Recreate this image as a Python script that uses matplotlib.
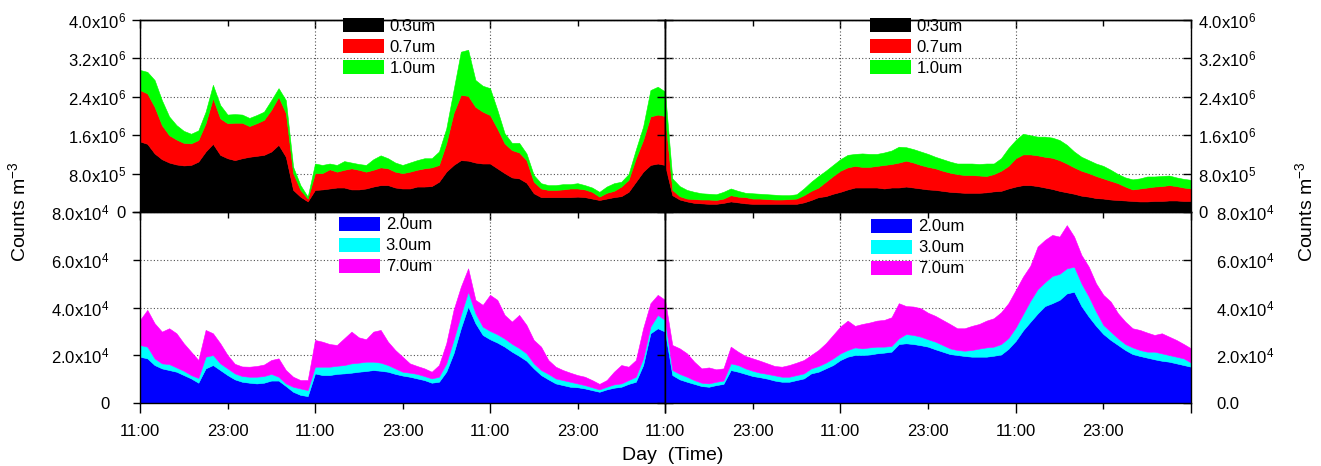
import numpy as np
import matplotlib
matplotlib.use('Agg')
import matplotlib.pyplot as plt
from matplotlib.patches import Patch
from matplotlib.ticker import FixedLocator, FixedFormatter, NullFormatter

plt.rcParams.update({
    'font.family': ['Liberation Sans', 'DejaVu Sans'],
    'mathtext.fontset': 'custom',
    'mathtext.rm': 'Liberation Sans',
    'mathtext.it': 'Liberation Sans:italic',
    'mathtext.bf': 'Liberation Sans:bold',
    'mathtext.default': 'regular',
    'font.size': 12,
    'axes.linewidth': 1.0,
})

# time axis: hourly samples, hour 0 = 11:00 of day 1 (6 days in total)
hours = np.arange(145)

# ---- fine particles, counts m^-3 in units of 1e6 ----
pm03 = [1.47,1.42,1.22,1.10,1.03,0.99,0.97,0.98,1.05,1.26,1.42,1.19,1.12,1.08,1.12,1.15,1.17,1.19,1.26,1.40,1.15,0.46,0.32,0.22,
        0.46,0.47,0.49,0.51,0.51,0.47,0.47,0.49,0.53,0.56,0.56,0.51,0.49,0.49,0.53,0.53,0.54,0.63,0.84,0.98,1.08,1.07,1.03,1.01,
        1.01,0.91,0.81,0.72,0.70,0.61,0.39,0.31,0.31,0.31,0.31,0.31,0.32,0.31,0.28,0.25,0.28,0.31,0.33,0.42,0.63,0.84,0.98,1.01,
        0.98,0.35,0.26,0.22,0.19,0.18,0.17,0.17,0.19,0.22,0.20,0.18,0.17,0.17,0.17,0.17,0.17,0.17,0.17,0.20,0.25,0.31,0.33,0.38,
        0.42,0.47,0.51,0.51,0.51,0.51,0.49,0.51,0.51,0.53,0.51,0.49,0.47,0.46,0.44,0.42,0.41,0.40,0.40,0.40,0.41,0.43,0.44,0.49,
        0.53,0.56,0.56,0.54,0.51,0.48,0.44,0.41,0.38,0.34,0.32,0.29,0.28,0.26,0.25,0.24,0.23,0.22,0.22,0.23,0.23,0.24,0.24,0.23,0.23]
pm07 = [1.07,1.05,0.97,0.71,0.57,0.52,0.47,0.45,0.45,0.59,0.95,0.76,0.73,0.78,0.74,0.64,0.68,0.73,0.87,1.00,0.91,0.35,0.14,0.06,
        0.35,0.34,0.40,0.33,0.37,0.44,0.41,0.35,0.35,0.37,0.35,0.33,0.32,0.35,0.35,0.38,0.39,0.35,0.59,1.08,1.36,1.35,1.16,1.08,
        1.01,0.83,0.62,0.57,0.54,0.47,0.24,0.18,0.15,0.15,0.16,0.18,0.17,0.16,0.14,0.07,0.12,0.13,0.20,0.25,0.49,0.66,1.01,1.02,
        1.02,0.11,0.07,0.06,0.08,0.08,0.09,0.08,0.09,0.13,0.12,0.13,0.11,0.11,0.10,0.09,0.09,0.10,0.11,0.15,0.19,0.20,0.30,0.37,
        0.44,0.46,0.45,0.43,0.43,0.45,0.49,0.49,0.52,0.54,0.52,0.49,0.47,0.45,0.42,0.40,0.38,0.37,0.37,0.36,0.34,0.36,0.42,0.47,
        0.59,0.64,0.64,0.64,0.64,0.65,0.64,0.60,0.55,0.52,0.49,0.46,0.42,0.39,0.35,0.29,0.24,0.27,0.29,0.30,0.31,0.32,0.30,0.28,0.26]
pm10 = [0.42,0.45,0.56,0.52,0.39,0.30,0.25,0.20,0.20,0.24,0.28,0.28,0.18,0.18,0.17,0.17,0.17,0.17,0.20,0.18,0.27,0.13,0.10,0.04,
        0.20,0.17,0.12,0.14,0.18,0.12,0.12,0.14,0.22,0.25,0.21,0.19,0.17,0.19,0.20,0.21,0.19,0.28,0.31,0.48,0.90,0.96,0.56,0.54,
        0.56,0.39,0.21,0.15,0.20,0.14,0.14,0.11,0.10,0.10,0.11,0.09,0.11,0.09,0.09,0.10,0.13,0.16,0.10,0.12,0.18,0.28,0.55,0.58,
        0.51,0.24,0.21,0.18,0.15,0.13,0.12,0.12,0.14,0.14,0.12,0.09,0.11,0.10,0.10,0.10,0.09,0.08,0.09,0.14,0.19,0.24,0.23,0.23,
        0.24,0.26,0.25,0.28,0.27,0.25,0.26,0.28,0.33,0.28,0.28,0.28,0.27,0.24,0.24,0.23,0.22,0.24,0.24,0.24,0.26,0.22,0.26,0.37,
        0.38,0.43,0.40,0.39,0.42,0.42,0.42,0.39,0.33,0.29,0.27,0.26,0.26,0.23,0.19,0.19,0.21,0.21,0.23,0.21,0.21,0.20,0.18,0.18,0.18]

# ---- coarse particles, counts m^-3 in units of 1e4 ----
pm2 = [1.94,1.87,1.59,1.45,1.38,1.31,1.17,1.03,0.85,1.45,1.59,1.38,1.17,0.99,0.89,0.85,0.82,0.85,0.94,0.94,0.71,0.47,0.34,0.29,
       1.24,1.17,1.17,1.22,1.24,1.27,1.31,1.34,1.38,1.35,1.31,1.22,1.15,1.10,1.03,0.96,0.85,0.89,1.31,2.08,3.13,4.04,3.34,2.85,
       2.67,2.53,2.36,2.15,1.97,1.77,1.45,1.17,0.99,0.82,0.75,0.68,0.66,0.61,0.54,0.47,0.57,0.64,0.68,0.80,0.89,1.59,2.92,3.13,
       2.99,1.17,0.99,0.89,0.80,0.71,0.68,0.75,0.80,1.38,1.31,1.22,1.13,1.08,1.02,0.94,0.89,0.89,0.96,1.03,1.24,1.31,1.45,1.59,
       1.80,1.94,2.01,2.01,2.03,2.08,2.11,2.15,2.47,2.50,2.47,2.42,2.36,2.25,2.15,2.05,2.01,1.97,1.94,1.94,1.94,1.98,2.03,2.27,
       2.60,3.04,3.40,3.75,4.06,4.18,4.32,4.59,4.66,4.06,3.62,3.23,2.89,2.64,2.43,2.22,2.05,1.97,1.90,1.83,1.77,1.73,1.66,1.59,1.52]
pm3 = [0.49,0.49,0.28,0.21,0.25,0.18,0.18,0.14,0.20,0.49,0.42,0.28,0.28,0.25,0.24,0.25,0.28,0.28,0.28,0.16,0.11,0.21,0.27,0.25,
       0.28,0.35,0.35,0.34,0.35,0.39,0.38,0.39,0.35,0.34,0.28,0.23,0.16,0.17,0.19,0.17,0.18,0.21,0.35,0.56,0.56,0.62,0.42,0.35,
       0.35,0.35,0.34,0.33,0.33,0.31,0.21,0.21,0.23,0.21,0.21,0.21,0.16,0.14,0.12,0.10,0.11,0.14,0.14,0.16,0.21,0.28,0.28,0.56,
       0.49,0.21,0.23,0.21,0.16,0.14,0.14,0.14,0.14,0.28,0.28,0.23,0.22,0.19,0.20,0.22,0.21,0.21,0.21,0.21,0.21,0.24,0.24,0.28,
       0.28,0.28,0.32,0.28,0.30,0.28,0.25,0.24,0.24,0.39,0.38,0.36,0.31,0.32,0.28,0.24,0.21,0.22,0.28,0.34,0.39,0.38,0.44,0.45,
       0.56,0.68,0.88,1.02,1.00,1.14,1.09,1.05,1.05,0.95,0.84,0.60,0.38,0.35,0.28,0.25,0.28,0.25,0.25,0.32,0.31,0.28,0.28,0.28,0.17]
pm7 = [1.05,1.54,1.47,1.33,1.50,1.43,1.15,0.98,0.75,1.12,0.91,0.84,0.56,0.40,0.40,0.42,0.45,0.48,0.58,0.77,0.56,0.42,0.35,0.42,
       1.12,1.05,0.95,0.87,1.12,1.33,1.06,0.94,1.26,1.37,0.98,0.77,0.63,0.39,0.33,0.32,0.28,0.49,0.84,1.26,1.18,0.98,0.56,0.91,
       1.51,1.44,0.99,0.93,1.39,1.19,0.98,0.98,0.58,0.49,0.42,0.38,0.35,0.35,0.30,0.23,0.28,0.53,0.77,0.56,0.70,1.26,0.98,0.84,
       0.84,1.05,1.07,0.98,0.77,0.60,0.67,0.52,0.51,0.70,0.56,0.52,0.52,0.50,0.44,0.39,0.42,0.49,0.52,0.56,0.56,0.67,0.81,0.98,
       1.12,1.23,0.90,1.02,1.04,1.09,1.12,1.20,1.47,1.17,1.19,1.19,1.11,1.08,1.05,1.02,0.91,0.94,1.01,1.03,1.12,1.19,1.33,1.46,
       1.57,1.57,1.47,1.78,1.77,1.72,1.56,1.81,1.26,1.19,1.25,1.18,1.26,1.26,1.05,0.94,0.80,0.84,0.80,0.70,0.84,0.77,0.70,0.60,0.60]

fine_labels = ['0.3um', '0.7um', '1.0um']
fine_colors = ['#000000', '#ff0000', '#00ff00']
coarse_labels = ['2.0um', '3.0um', '7.0um']
coarse_colors = ['#0000ff', '#00ffff', '#ff00ff']

top_ticks = [0, 0.8, 1.6, 2.4, 3.2, 4.0]
top_ticklabels = ['0', '8.0x10$^5$', '1.6x10$^6$', '2.4x10$^6$', '3.2x10$^6$', '4.0x10$^6$']
bot_ticks = [0, 2, 4, 6, 8]
bot_ticklabels_left = ['0', '2.0x10$^4$', '4.0x10$^4$', '6.0x10$^4$', '8.0x10$^4$']
bot_ticklabels_right = ['0.0', '2.0x10$^4$', '4.0x10$^4$', '6.0x10$^4$', '8.0x10$^4$']

left_major = [0, 24, 48, 72]
left_minor = [12, 36, 60]
left_major_lbl = ['11:00', '11:00', '11:00', '11:00']
left_minor_lbl = ['23:00', '23:00', '23:00']
right_major = [72, 96, 120, 144]
right_minor = [84, 108, 132]
right_major_lbl = ['', '11:00', '11:00', '']
right_minor_lbl = ['23:00', '23:00', '23:00']

fig = plt.figure(figsize=(13.21, 4.66), dpi=100)
W, H = 1321, 466
L, M, R = 140 / W, 665 / W, 1191 / W
T, Mid, B = 1 - 20 / H, 1 - 212 / H, 1 - 403 / H

ax_tl = fig.add_axes([L, Mid, M - L, T - Mid])
ax_tr = fig.add_axes([M, Mid, R - M, T - Mid])
ax_bl = fig.add_axes([L, B, M - L, Mid - B])
ax_br = fig.add_axes([M, B, R - M, Mid - B])

grid_kw = dict(color='#505050', linestyle=(0, (1, 2)), linewidth=0.8)

for ax in (ax_tl, ax_tr):
    ax.stackplot(hours, pm03, pm07, pm10, colors=fine_colors, linewidth=0.4, edgecolor='face')
    ax.set_ylim(0, 4.0)
for ax in (ax_bl, ax_br):
    ax.stackplot(hours, pm2, pm3, pm7, colors=coarse_colors, linewidth=0.4, edgecolor='face')
    ax.set_ylim(0, 8)

for ax, major, minor, is_left in ((ax_tl, left_major, left_minor, True), (ax_tr, right_major, right_minor, False),
                                  (ax_bl, left_major, left_minor, True), (ax_br, right_major, right_minor, False)):
    ax.set_xlim(major[0], major[-1])
    ax.xaxis.set_major_locator(FixedLocator(major))
    ax.xaxis.set_minor_locator(FixedLocator(minor))
    ax.set_axisbelow(True)
    ax.grid(True, axis='x', which='major', **grid_kw)
    ax.grid(True, axis='y', which='major', **grid_kw)
    sec = ax.secondary_xaxis('top')
    sec.xaxis.set_major_locator(FixedLocator(major))
    sec.xaxis.set_minor_locator(FixedLocator(minor))
    sec.xaxis.set_major_formatter(NullFormatter())
    sec.xaxis.set_minor_formatter(NullFormatter())
    sec.tick_params(which='major', direction='in', length=6, width=1)
    sec.tick_params(which='minor', direction='in', length=4, width=1)
    if not is_left:
        secy = ax.secondary_yaxis('left')
        ticks = top_ticks if ax is ax_tr else bot_ticks
        secy.yaxis.set_major_locator(FixedLocator(ticks))
        secy.yaxis.set_major_formatter(NullFormatter())
        secy.tick_params(direction='inout', length=12, width=1)

# top row: no bottom tick labels
for ax in (ax_tl, ax_tr):
    ax.tick_params(axis='x', which='both', bottom=False, labelbottom=False)

# bottom row x tick labels
for ax, mj_lbl, mn_lbl in ((ax_bl, left_major_lbl, left_minor_lbl), (ax_br, right_major_lbl, right_minor_lbl)):
    ax.xaxis.set_major_formatter(FixedFormatter(mj_lbl))
    ax.xaxis.set_minor_formatter(FixedFormatter(mn_lbl))
    ax.tick_params(axis='x', which='major', direction='out', length=7, width=1, pad=8, labelsize=12)
    ax.tick_params(axis='x', which='minor', direction='out', length=4, width=1, pad=11, labelsize=12)

# y axes
ax_tl.yaxis.set_major_locator(FixedLocator(top_ticks))
ax_tl.yaxis.set_major_formatter(FixedFormatter(top_ticklabels))
ax_tl.tick_params(axis='y', direction='out', length=6, width=1, pad=4, labelsize=12)

ax_tr.yaxis.tick_right()
ax_tr.yaxis.set_major_locator(FixedLocator(top_ticks))
ax_tr.yaxis.set_major_formatter(FixedFormatter(top_ticklabels))
ax_tr.tick_params(axis='y', direction='in', length=6, width=1, pad=5, labelsize=12)

ax_bl.yaxis.set_major_locator(FixedLocator(bot_ticks))
ax_bl.yaxis.set_major_formatter(FixedFormatter(bot_ticklabels_left))
ax_bl.tick_params(axis='y', direction='out', length=5, width=1, pad=17, labelsize=12)

ax_br.yaxis.tick_right()
ax_br.yaxis.set_major_locator(FixedLocator(bot_ticks))
ax_br.yaxis.set_major_formatter(FixedFormatter(bot_ticklabels_right))
ax_br.tick_params(axis='y', direction='in', length=6, width=1, pad=18, labelsize=12)

leg_kw = dict(loc='upper left', frameon=False, borderpad=0, borderaxespad=0, handlelength=2.45,
              handleheight=0.9, labelspacing=0.32, handletextpad=0.35, fontsize=12)
for ax, anchor, labels, colors in ((ax_tl, (0.387, 1.01), fine_labels, fine_colors),
                                    (ax_tr, (0.39, 1.01), fine_labels, fine_colors),
                                    (ax_bl, (0.379, 0.975), coarse_labels, coarse_colors),
                                    (ax_br, (0.392, 0.965), coarse_labels, coarse_colors)):
    handles = [Patch(facecolor=c, edgecolor='none') for c in colors]
    ax.legend(handles, labels, bbox_to_anchor=anchor, **leg_kw)

fig.text(18 / W, Mid, 'Counts m$^{-3}$', rotation=90, ha='center', va='center', fontsize=14)
fig.text(1305 / W, Mid, 'Counts m$^{-3}$', rotation=90, ha='center', va='center', fontsize=14)
fig.text(673 / W, 1 - 455 / H, 'Day  (Time)', ha='center', va='center', fontsize=14)

fig.savefig('out.png', dpi=100)
